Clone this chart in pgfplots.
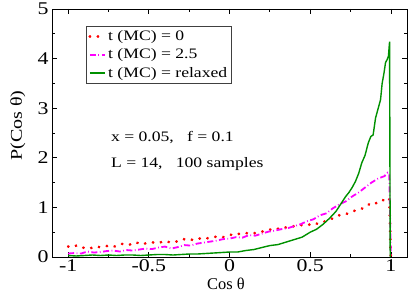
\documentclass[border=0pt]{standalone}
\usepackage{fontspec}
\setmainfont{Liberation Serif}[FakeStretch=1.22]
\newfontfamily\plainfont{Liberation Serif}
\usepackage{pgfplots}
\pgfplotsset{compat=1.18}
\usetikzlibrary{calc}
\definecolor{mcgreen}{RGB}{0,145,0}
\definecolor{mcmag}{RGB}{255,0,255}
\begin{document}
\begin{tikzpicture}
\begin{axis}[
  scale only axis,
  width=355bp, height=248bp,
  xmin=-1.1, xmax=1.1, ymin=0, ymax=5,
  xtick={-1,-0.5,0,0.5,1},
  ytick={0,1,2,3,4,5},
  minor x tick num=1, minor y tick num=1,
  tick align=inside,
  major tick length=5bp, minor tick length=3bp,
  axis line style={line width=0.8bp},
  every tick/.style={black, line width=0.7bp},
  /pgf/number format/assume math mode=true,
  ticklabel style={font=\fontsize{18}{18}\selectfont},
  xticklabel style={yshift=1bp},
  xlabel={\plainfont Cos θ},
  ylabel={P(Cos θ)},
  xlabel style={font=\fontsize{16.5}{16.5}\selectfont, at={(axis description cs:0.49,-0.132)}, anchor=base},
  ylabel style={font=\fontsize{16.5}{16.5}\selectfont, at={(axis description cs:-0.096,0.53)}, anchor=center},
  legend style={at={(axis description cs:0.096,0.931)}, anchor=north west,
    draw=black!75, line width=0.6bp, font=\fontsize{14.5}{16}\selectfont,
    inner xsep=2bp, inner ysep=2bp, row sep=3bp},
  legend cell align=left,
  legend image code/.code={\draw[#1] (0bp,0bp) -- (15bp,0bp);},
]
\addplot[red, line width=2.8bp, line cap=round, dash pattern=on 0.3bp off 7.7bp] coordinates {
(-1,0.21) (-0.96,0.24) (-0.92,0.18) (-0.88,0.20) (-0.84,0.17) (-0.80,0.21) (-0.76,0.22) (-0.72,0.20)
(-0.68,0.26) (-0.64,0.27) (-0.60,0.24) (-0.56,0.30) (-0.52,0.27) (-0.48,0.29) (-0.44,0.31) (-0.40,0.28)
(-0.36,0.32) (-0.32,0.31) (-0.28,0.36) (-0.24,0.34) (-0.20,0.38) (-0.16,0.36) (-0.12,0.39) (-0.08,0.41)
(-0.04,0.40) (0,0.44) (0.04,0.47) (0.08,0.46) (0.12,0.49) (0.16,0.48) (0.20,0.51) (0.24,0.54)
(0.28,0.58) (0.32,0.56) (0.36,0.61) (0.40,0.62) (0.44,0.64) (0.48,0.66) (0.52,0.64) (0.56,0.70)
(0.60,0.72) (0.64,0.78) (0.68,0.84) (0.72,0.86) (0.76,0.92) (0.80,0.95) (0.84,1.00) (0.88,1.10)
(0.92,1.08) (0.96,1.16) (0.98,1.20) (0.99,1.18) (1.0,0)
};
\addlegendentry{t (MC) = 0}
\addplot[mcmag, line width=1.8bp, dash pattern=on 6bp off 2.5bp on 0.8bp off 2.5bp] coordinates {
(-1,0.07) (-0.96,0.08) (-0.92,0.07) (-0.88,0.11) (-0.84,0.09) (-0.80,0.10) (-0.76,0.12) (-0.72,0.13)
(-0.68,0.11) (-0.64,0.14) (-0.60,0.13) (-0.56,0.15) (-0.52,0.17) (-0.48,0.16) (-0.44,0.19) (-0.40,0.21)
(-0.36,0.17) (-0.32,0.20) (-0.28,0.24) (-0.24,0.23) (-0.20,0.27) (-0.16,0.29) (-0.12,0.31) (-0.08,0.33)
(-0.04,0.36) (0,0.37) (0.04,0.40) (0.08,0.39) (0.12,0.44) (0.16,0.43) (0.20,0.47) (0.24,0.51)
(0.28,0.53) (0.32,0.56) (0.36,0.58) (0.40,0.62) (0.44,0.66) (0.48,0.72) (0.52,0.76) (0.56,0.84)
(0.60,0.88) (0.64,0.98) (0.68,1.06) (0.72,1.12) (0.76,1.22) (0.80,1.30) (0.84,1.40) (0.88,1.50)
(0.92,1.58) (0.96,1.63) (0.98,1.70) (0.99,1.68) (1.0,0)
};
\addlegendentry{t (MC) = 2.5}
\addplot[mcgreen, line width=1.4bp] coordinates {
(-1,0.03) (-0.95,0.02) (-0.9,0.03) (-0.85,0.04) (-0.8,0.03) (-0.75,0.04) (-0.7,0.03) (-0.65,0.04)
(-0.6,0.04) (-0.55,0.03) (-0.5,0.04) (-0.45,0.05) (-0.4,0.05) (-0.35,0.04) (-0.3,0.05) (-0.25,0.06)
(-0.2,0.06) (-0.15,0.07) (-0.1,0.08) (-0.05,0.09) (0,0.10) (0.05,0.10) (0.1,0.13) (0.15,0.15)
(0.2,0.19) (0.25,0.23) (0.3,0.25) (0.35,0.30) (0.4,0.35) (0.45,0.40) (0.5,0.50) (0.54,0.56)
(0.58,0.66) (0.62,0.78) (0.66,0.92) (0.70,1.12) (0.72,1.22) (0.74,1.30) (0.76,1.40) (0.78,1.52)
(0.80,1.68) (0.82,1.90) (0.84,2.05) (0.86,2.30) (0.876,2.43) (0.89,2.46) (0.905,2.80) (0.92,2.98)
(0.936,3.17) (0.946,3.50) (0.957,3.70) (0.967,3.92) (0.977,3.98) (0.985,4.05) (0.992,4.34) (0.996,0)
};
\addlegendentry{t (MC) = relaxed}
\node[anchor=base west, font=\fontsize{14.5}{16}\selectfont, inner sep=0pt] at (axis cs:-0.735,2.32) {x = 0.05,\ \ \ f = 0.1};
\node[anchor=base west, font=\fontsize{14.5}{16}\selectfont, inner sep=0pt] at (axis cs:-0.735,1.81) {L = 14,\ \ \ 100 samples};
\end{axis}
\pgfresetboundingbox
\path[use as bounding box] ($(current axis.south west)+(-52bp,-36bp)$) rectangle ($(current axis.north east)+(2bp,9bp)$);
\end{tikzpicture}
\end{document}
